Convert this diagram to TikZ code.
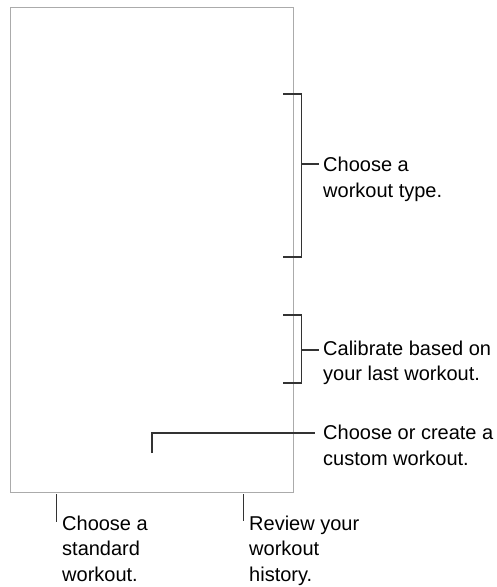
\documentclass[tikz,border=0pt]{standalone}
\usepackage{fontspec}
\setmainfont{Liberation Sans}
\begin{document}
\begin{tikzpicture}[x=1pt,y=-1pt,
  frame/.style={draw=black!33,line width=1pt},
  lead/.style={draw=black!80,line width=1.2pt},
  lbl/.style={anchor=base west,inner sep=0pt,align=left,font=\fontsize{20}{25.5}\selectfont}]
\useasboundingbox (0,0) rectangle (496,587);
% device frame
\node[frame,minimum width=283pt,minimum height=485pt,inner sep=0pt,anchor=north west] (dev) at (10,7) {};
% labels (base anchor = baseline of last line)
\node[lbl] (t1) at (323,197) {Choose a\\workout type.};
\node[lbl] (t2) at (323,380.5) {Calibrate based on\\your last workout.};
\node[lbl] (t3) at (323,465) {Choose or create a\\custom workout.};
\node[lbl] (t4) at (62,581) {Choose a\\standard\\workout.};
\node[lbl] (t5) at (249,581) {Review your\\workout\\history.};
% bracket 1
\coordinate (b1t) at (283,94);
\coordinate (b1b) at (283,257);
\coordinate (b1m) at (301.5,164);
\draw[lead] (b1t) -- (b1t -| b1m) -- (b1b -| b1m) -- (b1b);
\draw[lead] (b1m) -- ++(17.5,0);
% bracket 2
\coordinate (b2t) at (283,315);
\coordinate (b2b) at (283,383);
\coordinate (b2m) at (301.5,350);
\draw[lead] (b2t) -- (b2t -| b2m) -- (b2b -| b2m) -- (b2b);
\draw[lead] (b2m) -- ++(17.5,0);
% custom workout leader
\coordinate (c1) at (152,453);
\coordinate (c2) at (315,433);
\draw[lead] (c1) |- (c2);
% bottom leaders
\coordinate (d1) at (56.5,494);
\draw[lead] (d1) -- ++(0,28);
\coordinate (d2) at (243.5,494);
\draw[lead] (d2) -- ++(0,27);
\end{tikzpicture}
\end{document}
